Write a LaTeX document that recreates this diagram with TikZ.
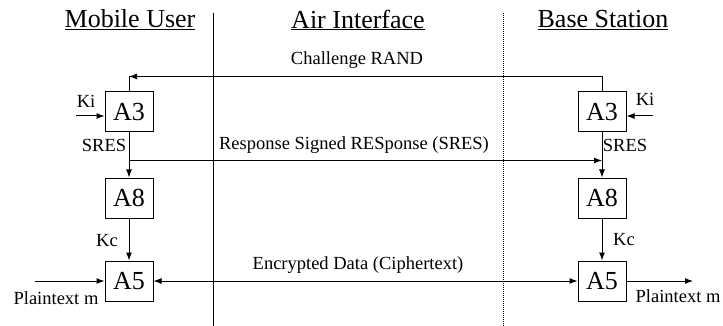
\documentclass[tikz,border=0pt]{standalone}
\usepackage{fontspec}
\setmainfont{Liberation Serif}
\usetikzlibrary{arrows.meta}

\begin{document}
\begin{tikzpicture}[x=1pt, y=-1pt,
algbox/.style={draw, line width=1pt, minimum width=48pt, minimum height=40pt, inner sep=0pt, font=\fontsize{26}{26}\selectfont},
lbl/.style={inner sep=1pt, font=\fontsize{18.5}{18.5}\selectfont},
head/.style={inner sep=1pt, font=\fontsize{26}{26}\selectfont},
wire/.style={line width=1pt},
sig/.style={wire, -{Latex[length=8pt,width=6pt]}}]
\useasboundingbox (0,0) rectangle (723,326);

%column headings and dividers
\node[head] (hmu) at (130,20) {\underline{Mobile User}};
\node[head] (hai) at (358,20) {\underline{Air Interface}};
\node[head] (hbs) at (603,20) {\underline{Base Station}};
\coordinate (dl) at (213,13);
\coordinate (dr) at (503,13);
\draw[wire] (dl) -- (dl |- 0,326);
\draw[wire, densely dotted] (dr) -- (dr |- 0,326);

%mobile side
\node[algbox] (mA3) at (129,112) {A3};
\node[algbox] (mA8) at (129,198) {A8};
\node[algbox] (mA5) at (129,281) {A5};
%base side
\node[algbox] (bA3) at (602,112) {A3};
\node[algbox] (bA8) at (602,198) {A8};
\node[algbox] (bA5) at (602,281) {A5};

%challenge
\path (mA3.north) ++(0,-15) coordinate (chal);
\draw[sig] (bA3.north) |- (chal);
\draw[wire] (chal) -- (mA3.north);
\node[lbl] (lchal) at (357,60) {Challenge RAND};

%Ki inputs
\coordinate (kiL) at (76,116);
\coordinate (kiR) at (653,116);
\draw[sig] (kiL) -- (kiL -| mA3.west);
\draw[sig] (kiR) -- (kiR -| bA3.east);
\node[lbl] (lkiL) at (86,101) {Ki};
\node[lbl] (lkiR) at (645,99) {Ki};

%response
\path (mA3.south) ++(0,28) coordinate (resp);
\draw[sig] (mA3.south) -- (mA8.north);
\draw[sig] (resp) -- (resp -| bA3.south);
\draw[sig] (bA3.south) -- (bA8.north);
\node[lbl] (lresp) at (354,145) {Response Signed RESponse (SRES)};
\node[lbl] (lsresL) at (104,145) {SRES};
\node[lbl] (lsresR) at (625,145) {SRES};

%cipher key
\draw[sig] (mA8.south) -- (mA5.north);
\draw[sig] (bA8.south) -- (bA5.north);
\node[lbl] (lkcL) at (107,241) {Kc};
\node[lbl] (lkcR) at (624,240) {Kc};

%data
\draw[sig, {Latex[length=8pt,width=6pt]}-{Latex[length=8pt,width=6pt]}] (mA5.east) -- (bA5.west);
\node[lbl] (ldata) at (358,265) {Encrypted Data (Ciphertext)};
\coordinate (ptL) at (35,281);
\coordinate (ptR) at (693,281);
\draw[sig] (ptL) -- (mA5.west);
\draw[sig] (bA5.east) -- (ptR);
\node[lbl] (lptL) at (56,298) {Plaintext m};
\node[lbl] (lptR) at (678,296) {Plaintext m};
\end{tikzpicture}
\end{document}
